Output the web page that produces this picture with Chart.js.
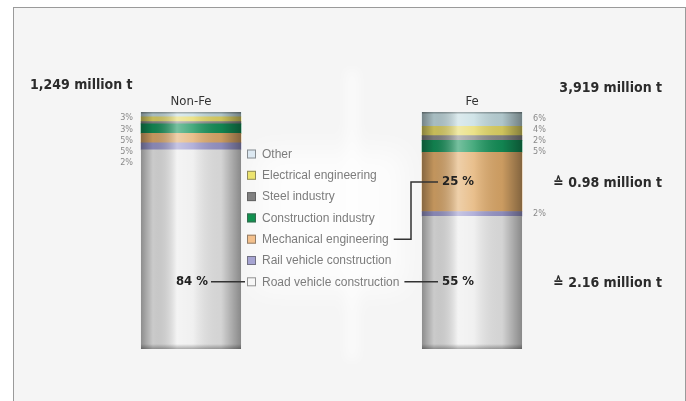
<!DOCTYPE html>
<html>
<head>
<meta charset="utf-8">
<script src="https://cdn.jsdelivr.net/npm/chart.js@4"></script>
<style>
  html, body { margin: 0; padding: 0; background: #fff; }
  #frame {
    position: absolute; left: 13px; top: 7px; width: 671px; height: 400px;
    border: 1px solid #9a9a9a; border-bottom: none; background: #f5f5f5;
  }
  #wrap { position: absolute; left: 0; top: 0; width: 686px; height: 401px; }
</style>
</head>
<body>
<div id="frame"></div>
<div id="wrap"><canvas id="grafico"></canvas></div>
<script>
// ── Dados ─────────────────────────────────
const categorias = ['Non-Fe', 'Fe'];
const setores = ['Road vehicle construction', 'Rail vehicle construction', 'Mechanical engineering',
                 'Construction industry', 'Steel industry', 'Electrical engineering', 'Other'];
const road      = [84, 56];
const rail      = [3, 2];
const mechanical = [4, 25];
const construction = [4, 5];
const steel     = [1, 2];
const electrical = [2, 4];
const other     = [2, 6];

const totais     = ['1,249 million t', '3,919 million t'];
const pctNonFe   = ['3%', '3%', '5%', '5%', '2%'];
const pctFe      = ['6%', '4%', '2%', '5%'];
const pctFeRail  = '2%';
const destaques  = ['84 %', '55 %', '25 %'];
const massas     = ['\u2259 0.98 million t', '\u2259 2.16 million t'];

const cores = ['#ececec', '#9d9bcf', '#e2ad6c', '#14935a', '#8c8c8c', '#e6da67', '#c3dce1'];
const coresLegenda = ['#f7f7f7', '#a6a4d2', '#f3c08c', '#11914f', '#808080', '#ede46f', '#dde9f2'];

const NARROW = '"Liberation Sans Narrow", "DejaVu Sans Condensed", "Liberation Sans", sans-serif';
const SANS   = '"Liberation Sans", Arial, sans-serif';

// ── Helpers ───────────────────────────────
function caixaBarra(chart, i) {
  let x = 0, w = 0, top = Infinity, bottom = -Infinity;
  chart.data.datasets.forEach((d, di) => {
    const el = chart.getDatasetMeta(di).data[i];
    x = el.x; w = el.width;
    top = Math.min(top, el.y); bottom = Math.max(bottom, el.base);
  });
  return { left: x - w / 2, right: x + w / 2, top, bottom, x };
}
function centroSeg(chart, di, i) {
  const el = chart.getDatasetMeta(di).data[i];
  return (el.y + el.base) / 2;
}

// ── Plugin: cilindro + textos ─────────────
const anotacoes = {
  id: 'anotacoes',
  beforeDatasetsDraw(chart) {
    // brilho claro e difuso atrás da legenda
    const ctx = chart.ctx;
    ctx.save();
    ctx.filter = 'blur(14px)';
    ctx.fillStyle = 'rgba(255,255,255,0.75)';
    ctx.fillRect(255, 150, 150, 140);
    ctx.filter = 'blur(6px)';
    ctx.fillStyle = 'rgba(255,255,255,0.6)';
    ctx.fillRect(346, 70, 12, 290);
    ctx.restore();
  },
  afterDatasetsDraw(chart) {
    const ctx = chart.ctx;
    categorias.forEach((c, i) => {
      const b = caixaBarra(chart, i);
      const g = ctx.createLinearGradient(b.left, 0, b.right, 0);
      g.addColorStop(0, 'rgba(0,0,0,0.4)');
      g.addColorStop(0.12, 'rgba(0,0,0,0.14)');
      g.addColorStop(0.36, 'rgba(255,255,255,0.42)');
      g.addColorStop(0.52, 'rgba(255,255,255,0.22)');
      g.addColorStop(0.8, 'rgba(0,0,0,0.1)');
      g.addColorStop(1, 'rgba(0,0,0,0.42)');
      ctx.save();
      ctx.fillStyle = g;
      ctx.fillRect(b.left, b.top, b.right - b.left, b.bottom - b.top);
      ctx.fillStyle = 'rgba(0,0,0,0.25)';
      ctx.fillRect(b.left, b.top, b.right - b.left, 1.5);
      const gb = ctx.createLinearGradient(0, b.bottom - 5, 0, b.bottom);
      gb.addColorStop(0, 'rgba(0,0,0,0)');
      gb.addColorStop(1, 'rgba(0,0,0,0.3)');
      ctx.fillStyle = gb;
      ctx.fillRect(b.left, b.bottom - 5, b.right - b.left, 5);
      ctx.restore();
    });
  },
  afterDraw(chart) {
    const ctx = chart.ctx;
    const nf = caixaBarra(chart, 0);
    const fe = caixaBarra(chart, 1);
    ctx.save();
    ctx.textBaseline = 'middle';

    // totais
    ctx.fillStyle = '#2b2b2b';
    ctx.font = 'bold 14px ' + NARROW;
    ctx.textAlign = 'left';
    ctx.fillText(totais[0], 30, 85);
    ctx.textAlign = 'right';
    ctx.fillText(totais[1], 662, 88);

    // categorias
    ctx.font = '13px ' + NARROW;
    ctx.textAlign = 'center';
    ctx.fillStyle = '#333';
    ctx.fillText(categorias[0], nf.x, nf.top - 10);
    ctx.fillText(categorias[1], fe.x, fe.top - 10);

    // pequenos %
    ctx.font = '9px ' + NARROW;
    ctx.fillStyle = '#8a8a8a';
    ctx.textAlign = 'right';
    pctNonFe.forEach((t, k) => ctx.fillText(t, nf.left - 8, nf.top + 6 + k * 11.2));
    ctx.textAlign = 'left';
    pctFe.forEach((t, k) => ctx.fillText(t, fe.right + 11, fe.top + 7 + k * 11));
    ctx.fillText(pctFeRail, fe.right + 11, centroSeg(chart, 1, 1));

    // legenda
    const n = chart.data.datasets.length;
    const linhaY = [];
    ctx.font = '12px ' + SANS;
    for (let k = n - 1; k >= 0; k--) {
      const row = n - 1 - k;
      const y = 154 + row * 21.3;
      linhaY[k] = y;
      ctx.fillStyle = coresLegenda[k];
      ctx.fillRect(247, y - 4.5, 9, 9);
      ctx.strokeStyle = 'rgba(80,80,80,0.6)';
      ctx.lineWidth = 1;
      ctx.strokeRect(247.5, y - 4, 8, 8);
      ctx.fillStyle = '#7c7c7c';
      ctx.textAlign = 'left';
      ctx.fillText(chart.data.datasets[k].label, 262, y + 0.5);
    }

    // conectores
    ctx.strokeStyle = '#333';
    ctx.lineWidth = 1.5;
    const wRoad = ctx.measureText(setores[0]).width;
    const wMech = ctx.measureText(setores[2]).width;
    ctx.beginPath();
    ctx.moveTo(211, linhaY[0]); ctx.lineTo(245, linhaY[0]);
    ctx.moveTo(262 + wRoad + 5, linhaY[0]); ctx.lineTo(438, linhaY[0]);
    const yMech = centroSeg(chart, 2, 1);
    ctx.moveTo(262 + wMech + 5, linhaY[2]); ctx.lineTo(411, linhaY[2]);
    ctx.lineTo(411, yMech); ctx.lineTo(438, yMech);
    ctx.stroke();

    ctx.font = 'bold 13px ' + NARROW;
    ctx.fillStyle = '#222';
    ctx.textAlign = 'right';
    ctx.fillText(destaques[0], 208, linhaY[0]);
    ctx.textAlign = 'left';
    ctx.fillText(destaques[1], 442, linhaY[0]);
    ctx.fillText(destaques[2], 442, yMech);

    // massas
    ctx.font = 'bold 14px ' + NARROW;
    ctx.fillStyle = '#2b2b2b';
    ctx.textAlign = 'right';
    ctx.fillText(massas[0], 662, yMech + 1);
    ctx.fillText(massas[1], 662, linhaY[0] + 2);
    ctx.restore();
  }
};

// ── Gráfico ───────────────────────────────
const series = [road, rail, mechanical, construction, steel, electrical, other];

new Chart(document.getElementById('grafico').getContext('2d'), {
  type: 'bar',
  data: {
    labels: categorias,
    datasets: series.map((d, k) => ({
      label: setores[k],
      data: d,
      backgroundColor: cores[k],
      borderWidth: 0,
      barThickness: 100
    }))
  },
  options: {
    responsive: true,
    maintainAspectRatio: false,
    animation: false,
    layout: { padding: { left: 50.5, right: 73.5, top: 112, bottom: 52 } },
    plugins: { legend: { display: false }, tooltip: { enabled: false } },
    scales: {
      x: { stacked: true, display: false },
      y: { stacked: true, display: false, min: 0, max: 100 }
    }
  },
  plugins: [anotacoes]
});
</script>
</body>
</html>
